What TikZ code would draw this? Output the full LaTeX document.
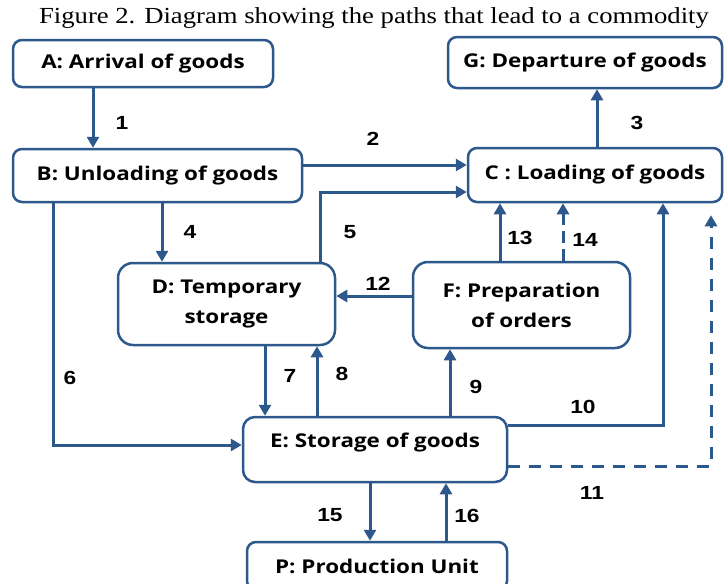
\documentclass[tikz,border=0pt]{standalone}
\usepackage{fontspec}
\setmainfont{Open Sans}
\newfontfamily\boxfont[FakeStretch=1.18]{Open Sans}
\newfontfamily\numfont[FakeStretch=1.2]{Liberation Sans}
\newfontfamily\capfont[FakeStretch=1.16]{Liberation Serif}
\usetikzlibrary{arrows.meta}

\definecolor{flowblue}{RGB}{44,88,140}

\tikzset{
    stage/.style={draw=flowblue, line width=2.5pt, rounded corners=9pt, fill=white,
        align=center, inner sep=0pt, font=\boxfont\bfseries\fontsize{19}{30}\selectfont},
    flow/.style={draw=flowblue, line width=3pt, -{Triangle[width=12pt,length=11pt]}},
    optflow/.style={flow, dash pattern=on 12pt off 9pt},
    num/.style={font=\numfont\bfseries\fontsize{19}{19}\selectfont},
}

\begin{document}
\begin{tikzpicture}[x=1pt, y=-1pt]
    \useasboundingbox (0,0) rectangle (724,584);

    % Title
    \node[font=\capfont\fontsize{23}{23}\selectfont] (title) at (374,18)
        {Figure 2. Diagram showing the paths that lead to a commodity};

    % Stages
    \node[stage, minimum width=260pt, minimum height=47pt] (A) at (143,63.5) {A: Arrival of goods};
    \node[stage, minimum width=274pt, minimum height=51pt] (G) at (585,62.5) {G: Departure of goods};
    \node[stage, minimum width=289pt, minimum height=53pt] (B) at (157.5,175.5) {B: Unloading of goods};
    \node[stage, minimum width=254pt, minimum height=54pt] (C) at (595,175) {C : Loading of goods};
    \node[stage, rounded corners=15pt, minimum width=217pt, minimum height=82pt] (D) at (226.5,304) {D: Temporary\\storage};
    \node[stage, rounded corners=15pt, minimum width=217pt, minimum height=86pt] (F) at (521.5,305) {F: Preparation\\of orders};
    \node[stage, rounded corners=12pt, minimum width=264pt, minimum height=65pt, text depth=19pt] (E) at (375,449.5) {E: Storage of goods};
    \node[stage, minimum width=260pt, minimum height=48pt] (P) at (377,566) {P: Production Unit};

    % Paths between stages
    \draw[flow] (A.south -| 93,0) -- (B.north -| 93,0);
    \draw[flow] (B.east |- 0,165) -- (C.west |- 0,165);
    \draw[flow] (C.north -| 597,0) -- (G.south -| 597,0);
    \draw[flow] (B.south -| 162,0) -- (D.north -| 162,0);
    \draw[flow] (D.north -| 320,0) |- (C.west |- 0,192);
    \draw[flow] (B.south -| 53,0) |- (E.west |- 0,445);
    \draw[flow] (D.south -| 265,0) -- (E.north -| 265,0);
    \draw[flow] (E.north -| 317,0) -- (D.south -| 317,0);
    \draw[flow] (E.north -| 450,0) -- (F.south -| 450,0);
    \draw[flow] (E.east |- 0,425) -| (C.south -| 663,0);
    \draw[optflow, shorten >=12pt] (E.east |- 0,466) -| (C.south -| 711,0);
    \draw[flow] (F.west |- 0,296) -- (D.east |- 0,296);
    \draw[flow] (F.north -| 500,0) -- (C.south -| 500,0);
    \draw[flow, dash pattern=on 12pt off 6pt] (F.north -| 563,0) -- (C.south -| 563,0);
    \draw[flow] (E.south -| 370,0) -- (P.north -| 370,0);
    \draw[flow] (P.north -| 446,0) -- (E.south -| 446,0);

    % Path numbers
    \foreach \n/\x/\y in {1/122/123, 2/373/139, 3/637/123, 4/190/232, 5/350/232,
        6/70/378, 7/290/376, 8/342/374, 9/476/387, 10/583/407, 11/592/493,
        12/378/284, 13/520/238, 14/585/240, 15/330/515, 16/467/516}
        \node[num] (n\n) at (\x,\y) {\n};
\end{tikzpicture}
\end{document}
